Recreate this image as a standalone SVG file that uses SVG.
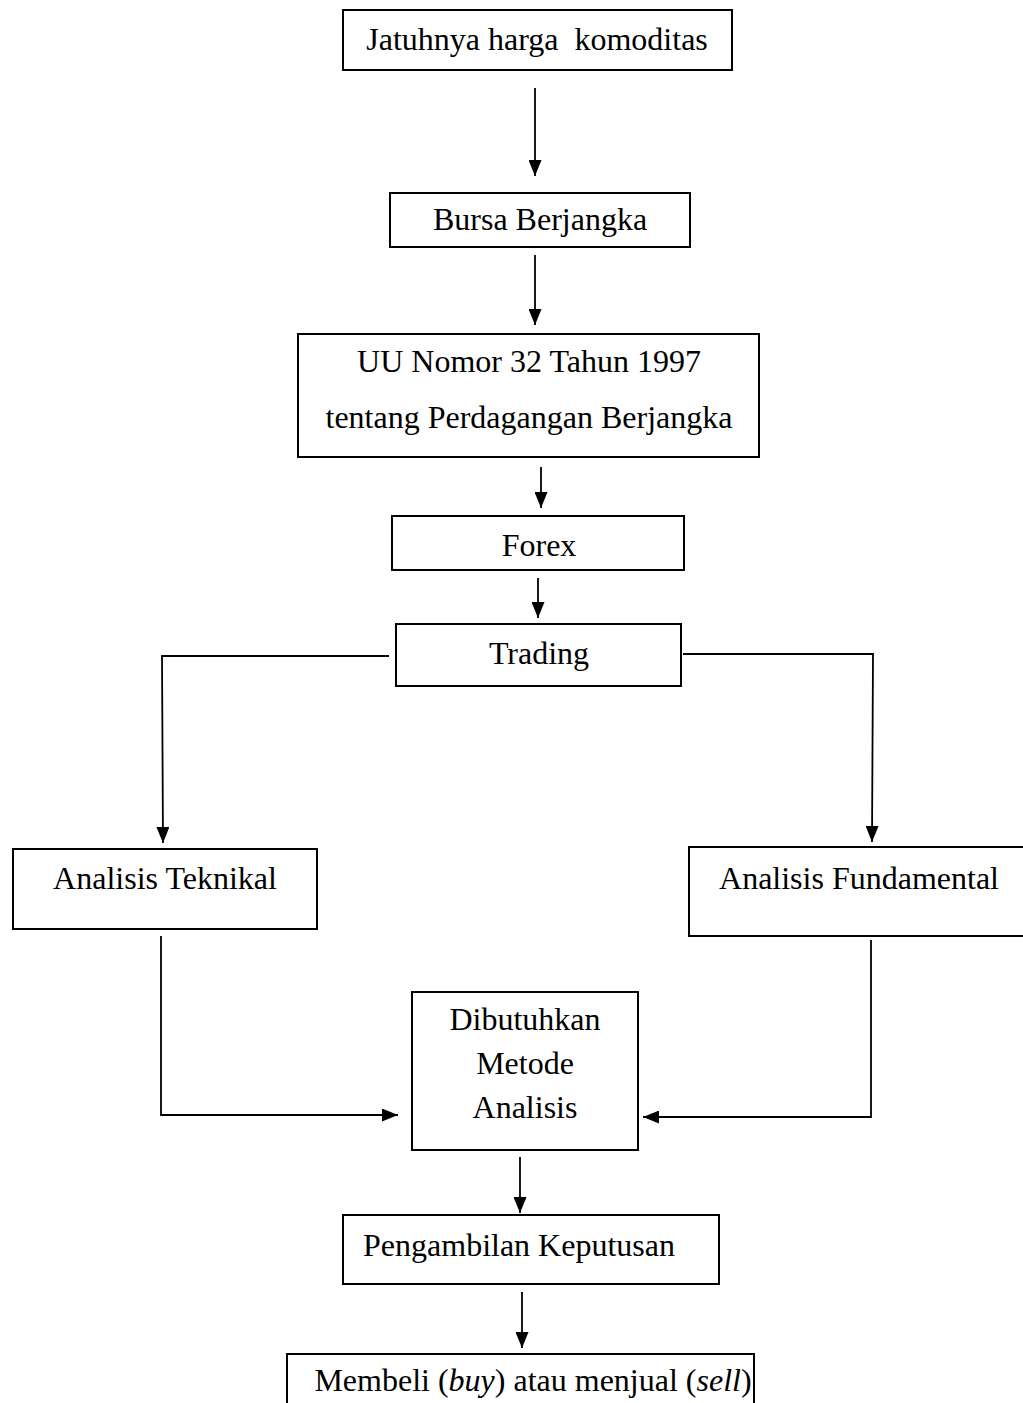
<svg xmlns="http://www.w3.org/2000/svg" width="1023" height="1403" viewBox="0 0 1023 1403">
<style>
.box{fill:#fff;stroke:#000;stroke-width:2}
.t{font-family:"Liberation Serif","Times New Roman",serif;font-size:32px;fill:#000;text-anchor:middle;white-space:pre}
.c{fill:none;stroke:#000;stroke-width:1.8}
</style>
<defs>
<marker id="ah" markerWidth="16" markerHeight="13" refX="16" refY="6.5" orient="auto" markerUnits="userSpaceOnUse">
<path d="M0,0 L16,6.5 L0,13 Z" fill="#000"/>
</marker>
</defs>
<rect width="1023" height="1403" fill="#fff"/>
<g id="connectors">
<line class="c" x1="535" y1="88" x2="535" y2="176" marker-end="url(#ah)"/>
<line class="c" x1="535" y1="255" x2="535" y2="325" marker-end="url(#ah)"/>
<line class="c" x1="541" y1="467" x2="541" y2="508" marker-end="url(#ah)"/>
<line class="c" x1="538" y1="578" x2="538" y2="618" marker-end="url(#ah)"/>
<polyline class="c" points="389,656 162,656 163,843" marker-end="url(#ah)"/>
<polyline class="c" points="683,654 873,654 872,842" marker-end="url(#ah)"/>
<polyline class="c" points="161,936 161,1115 398,1115" marker-end="url(#ah)"/>
<polyline class="c" points="871,940 871,1117 643,1117" marker-end="url(#ah)"/>
<line class="c" x1="520" y1="1157" x2="520" y2="1213" marker-end="url(#ah)"/>
<line class="c" x1="522" y1="1292" x2="522" y2="1348" marker-end="url(#ah)"/>
</g>
<g id="n1"><rect class="box" x="343" y="10" width="389" height="60"/><text class="t" x="537" y="50" xml:space="preserve">Jatuhnya harga  komoditas</text></g>
<g id="n2"><rect class="box" x="390" y="193" width="300" height="54"/><text class="t" x="540" y="230">Bursa Berjangka</text></g>
<g id="n3"><rect class="box" x="298" y="334" width="461" height="123"/><text class="t" x="529" y="372">UU Nomor 32 Tahun 1997</text><text class="t" x="529" y="428">tentang Perdagangan Berjangka</text></g>
<g id="n4"><rect class="box" x="392" y="516" width="292" height="54"/><text class="t" x="539" y="556">Forex</text></g>
<g id="n5"><rect class="box" x="396" y="624" width="285" height="62"/><text class="t" x="539" y="664">Trading</text></g>
<g id="n6"><rect class="box" x="13" y="849" width="304" height="80"/><text class="t" x="165" y="889">Analisis Teknikal</text></g>
<g id="n7"><rect class="box" x="689" y="847" width="340" height="89"/><text class="t" x="859" y="889">Analisis Fundamental</text></g>
<g id="n8"><rect class="box" x="412" y="992" width="226" height="158"/><text class="t" x="525" y="1030">Dibutuhkan</text><text class="t" x="525" y="1074">Metode</text><text class="t" x="525" y="1118">Analisis</text></g>
<g id="n9"><rect class="box" x="343" y="1215" width="376" height="69"/><text class="t" x="519" y="1256">Pengambilan Keputusan</text></g>
<g id="n10"><rect class="box" x="287" y="1354" width="467" height="60"/><text class="t" x="533" y="1391">Membeli (<tspan font-style="italic">buy</tspan>) atau menjual (<tspan font-style="italic">sell</tspan>)</text></g>
</svg>
